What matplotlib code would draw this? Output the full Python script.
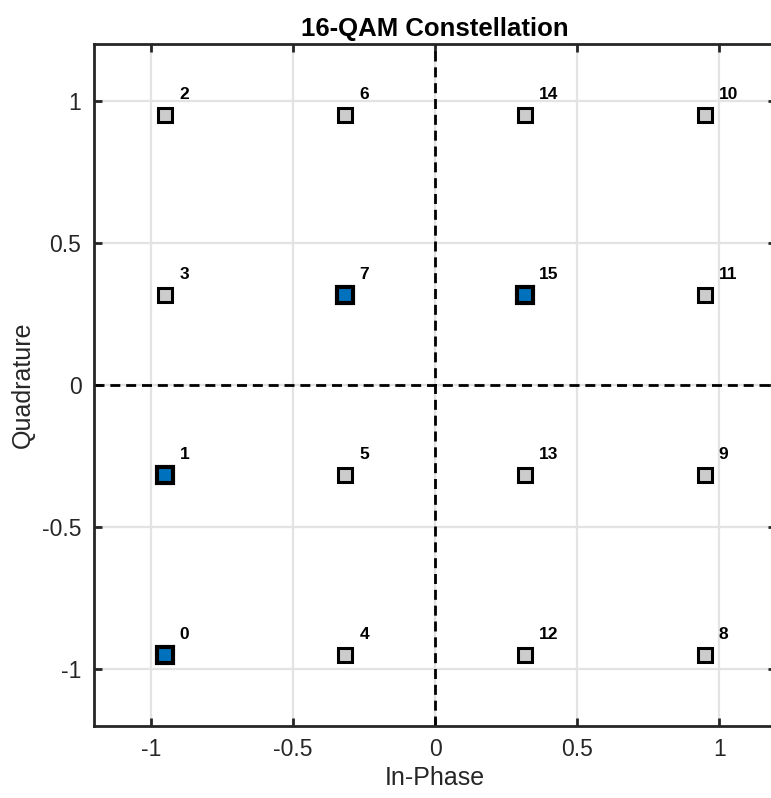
import numpy as np
import matplotlib
matplotlib.use("Agg")
import matplotlib.pyplot as plt

plt.rcParams['font.family'] = ['Liberation Sans', 'DejaVu Sans']

# 16-QAM symbol indices and their normalised I/Q coordinates
symbols = list(range(16))
i_vals = [-0.9487, -0.9487, -0.9487, -0.9487,
          -0.3162, -0.3162, -0.3162, -0.3162,
          0.9487, 0.9487, 0.9487, 0.9487,
          0.3162, 0.3162, 0.3162, 0.3162]
q_vals = [-0.9487, -0.3162, 0.9487, 0.3162,
          -0.9487, -0.3162, 0.9487, 0.3162,
          -0.9487, -0.3162, 0.9487, 0.3162,
          -0.9487, -0.3162, 0.9487, 0.3162]
# symbols that get highlighted
selected = [0, 1, 7, 15]

ticks = [-1, -0.5, 0, 0.5, 1]
tick_labels = ['-1', '-0.5', '0', '0.5', '1']

dark = '#262626'
blue = '#0072BD'

fig = plt.figure(figsize=(7.71, 7.98), dpi=100)
ax = fig.add_axes([94 / 771, 72 / 798, 682 / 771, 682 / 798])

ax.set_xlim(-1.2, 1.2)
ax.set_ylim(-1.2, 1.2)
ax.set_xticks(ticks)
ax.set_yticks(ticks)
ax.set_xticklabels(tick_labels)
ax.set_yticklabels(tick_labels)
ax.grid(True, color='#e3e3e3', linewidth=1.6, zorder=0)
ax.set_axisbelow(True)

# dashed zero reference lines
ax.axhline(0, color='black', linestyle=(0, (3.6, 2.1)), linewidth=2, zorder=1)
ax.axvline(0, color='black', linestyle=(0, (3.6, 2.1)), linewidth=2, zorder=1)

for k in symbols:
    if k in selected:
        continue
    ax.plot(i_vals[k], q_vals[k], 's', markersize=10.5, markerfacecolor='#cccccc',
            markeredgecolor='black', markeredgewidth=2.2, zorder=3)
for k in selected:
    ax.plot(i_vals[k], q_vals[k], 's', markersize=12, markerfacecolor=blue,
            markeredgecolor='black', markeredgewidth=3, zorder=4)

for k in symbols:
    ax.text(i_vals[k] + 0.05, q_vals[k] + 0.072, str(k), fontsize=12.5,
            fontweight='bold', ha='left', va='center', color='black', zorder=5)

for side in ['left', 'top', 'bottom']:
    ax.spines[side].set_color(dark)
    ax.spines[side].set_linewidth(2)
ax.spines['right'].set_visible(False)
ax.tick_params(direction='in', length=5.5, width=2, colors=dark,
               labelsize=16.5, top=True, right=True, pad=9)

ax.set_xlabel('In-Phase', fontsize=18, color=dark, labelpad=3)
ax.set_ylabel('Quadrature', fontsize=18, color=dark, labelpad=5)
ax.set_title('16-QAM Constellation', fontsize=18.5, fontweight='bold', pad=6)

fig.savefig('out.png', dpi=100)
